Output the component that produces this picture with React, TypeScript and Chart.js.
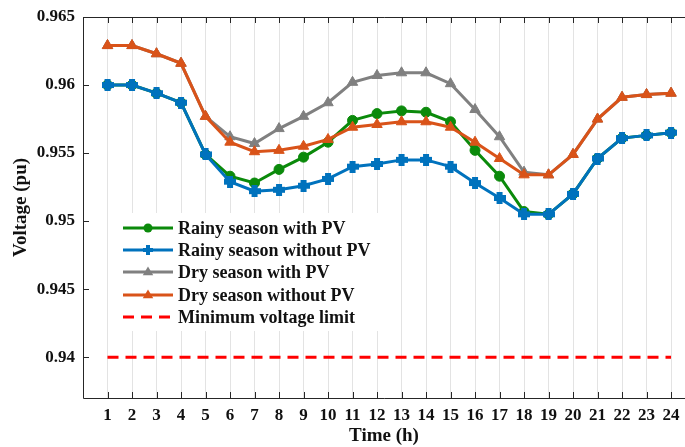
import React, { useEffect, useRef } from "react";
import { Chart, registerables } from "chart.js";

Chart.register(...registerables);

const hours = [1, 2, 3, 4, 5, 6, 7, 8, 9, 10, 11, 12, 13, 14, 15, 16, 17, 18, 19, 20, 21, 22, 23, 24];
const rainyWithPV = [0.96, 0.96, 0.9594, 0.9587, 0.9549, 0.9533, 0.9528, 0.9538, 0.9547, 0.9558, 0.9574, 0.9579, 0.9581, 0.958, 0.9573, 0.9552, 0.9533, 0.9507, 0.9505, 0.952, 0.9546, 0.9561, 0.9563, 0.9565];
const rainyWithoutPV = [0.96, 0.96, 0.9594, 0.9587, 0.9549, 0.9529, 0.9522, 0.9523, 0.9526, 0.9531, 0.954, 0.9542, 0.9545, 0.9545, 0.954, 0.9528, 0.9517, 0.9505, 0.9505, 0.952, 0.9546, 0.9561, 0.9563, 0.9565];
const dryWithPV = [0.9629, 0.9629, 0.9623, 0.9616, 0.9577, 0.9562, 0.9557, 0.9568, 0.9577, 0.9587, 0.9602, 0.9607, 0.9609, 0.9609, 0.9601, 0.9582, 0.9562, 0.9536, 0.9534, 0.9549, 0.9575, 0.9591, 0.9593, 0.9594];
const dryWithoutPV = [0.9629, 0.9629, 0.9623, 0.9616, 0.9577, 0.9558, 0.9551, 0.9552, 0.9555, 0.956, 0.9569, 0.9571, 0.9573, 0.9573, 0.9569, 0.9558, 0.9546, 0.9534, 0.9534, 0.9549, 0.9575, 0.9591, 0.9593, 0.9594];
const minVoltageLimit = [0.94, 0.94, 0.94, 0.94, 0.94, 0.94, 0.94, 0.94, 0.94, 0.94, 0.94, 0.94, 0.94, 0.94, 0.94, 0.94, 0.94, 0.94, 0.94, 0.94, 0.94, 0.94, 0.94, 0.94];
const yTicks = [0.94, 0.945, 0.95, 0.955, 0.96, 0.965];
const yTickLabels = ["0.94", "0.945", "0.95", "0.955", "0.96", "0.965"];
const seriesNames = [
  "Rainy season with PV",
  "Rainy season without PV",
  "Dry season with PV",
  "Dry season without PV",
  "Minimum voltage limit",
];

const GREEN = "#0b8a0b";
const BLUE = "#0072bd";
const GRAY = "#808080";
const ORANGE = "#d95319";
const RED = "#ff0000";
const AXIS = "#262626";
const FONT = "'Liberation Serif', 'Times New Roman', serif";

function makePlus(color: string, size: number) {
  const c = document.createElement("canvas");
  c.width = size;
  c.height = size;
  const g = c.getContext("2d")!;
  g.fillStyle = color;
  const t = Math.round(size / 4);
  g.fillRect(t, 0, size - 2 * t, size);
  g.fillRect(0, t, size, size - 2 * t);
  return c;
}

function toXY(vals: number[]) {
  return vals.map((v, i) => ({ x: hours[i], y: v }));
}

export default function App() {
  const ref = useRef<HTMLCanvasElement | null>(null);

  useEffect(() => {
    document.body.style.margin = "0";
    const canvas = ref.current;
    if (!canvas) return;
    const bluePlus = makePlus(BLUE, 12);
    const bluePlusSmall = makePlus(BLUE, 10);

    const legendPlugin = {
      id: "customLegend",
      afterDatasetsDraw(chart: any) {
        const ctx = chart.ctx;
        ctx.save();
        ctx.fillStyle = "#ffffff";
        ctx.fillRect(113, 213, 277, 118);
        const rows = [228, 250, 272, 295, 317];
        const colors = [GREEN, BLUE, GRAY, ORANGE, RED];
        rows.forEach((y, i) => {
          ctx.strokeStyle = colors[i];
          ctx.lineWidth = 3;
          if (i === 4) {
            ctx.setLineDash([11, 7]);
            ctx.beginPath();
            ctx.moveTo(123, y);
            ctx.lineTo(173, y);
            ctx.stroke();
            ctx.setLineDash([]);
          } else {
            ctx.beginPath();
            ctx.moveTo(123, y);
            ctx.lineTo(173, y);
            ctx.stroke();
          }
          const cx = 148;
          ctx.fillStyle = colors[i];
          if (i === 0) {
            ctx.beginPath();
            ctx.arc(cx, y, 4.5, 0, Math.PI * 2);
            ctx.fill();
          } else if (i === 1) {
            ctx.drawImage(bluePlusSmall, cx - 5, y - 5, 10, 10);
          } else if (i === 2 || i === 3) {
            const r = 5.5;
            ctx.beginPath();
            ctx.moveTo(cx, y - r);
            ctx.lineTo(cx + r * 0.95, y + r * 0.6);
            ctx.lineTo(cx - r * 0.95, y + r * 0.6);
            ctx.closePath();
            ctx.fill();
          }
          ctx.fillStyle = "#111111";
          ctx.font = `bold 18px ${FONT}`;
          ctx.textAlign = "left";
          ctx.textBaseline = "middle";
          ctx.fillText(seriesNames[i], 178, y + 1);
        });
        ctx.restore();
      },
    };

    const framePlugin = {
      id: "frame",
      afterDraw(chart: any) {
        const ctx = chart.ctx;
        const { left, right, top, bottom } = chart.chartArea;
        const xs = chart.scales.x;
        const ys = chart.scales.y;
        ctx.save();
        ctx.strokeStyle = AXIS;
        ctx.lineWidth = 1;
        ctx.beginPath();
        ctx.moveTo(left + 0.5, top + 0.5);
        ctx.lineTo(right, top + 0.5);
        ctx.moveTo(left + 0.5, top);
        ctx.lineTo(left + 0.5, bottom + 0.5);
        ctx.lineTo(right, bottom + 0.5);
        const tl = 6;
        hours.forEach((h) => {
          const px = Math.round(xs.getPixelForValue(h)) + 0.5;
          ctx.moveTo(px, bottom);
          ctx.lineTo(px, bottom - tl);
          ctx.moveTo(px, top);
          ctx.lineTo(px, top + tl);
        });
        yTicks.forEach((v) => {
          const py = Math.round(ys.getPixelForValue(v)) + 0.5;
          ctx.moveTo(left, py);
          ctx.lineTo(left + tl, py);
        });
        ctx.stroke();
        ctx.restore();
      },
    };

    const chart = new Chart(canvas, {
      type: "line",
      data: {
        datasets: [
          {
            label: seriesNames[0],
            data: toXY(rainyWithPV),
            borderColor: GREEN,
            backgroundColor: GREEN,
            borderWidth: 3,
            pointStyle: "circle",
            pointRadius: 5,
            pointBorderWidth: 1,
            order: 4,
          },
          {
            label: seriesNames[1],
            data: toXY(rainyWithoutPV),
            borderColor: BLUE,
            backgroundColor: BLUE,
            borderWidth: 3,
            pointStyle: bluePlus as any,
            pointRadius: 6,
            order: 3,
          },
          {
            label: seriesNames[2],
            data: toXY(dryWithPV),
            borderColor: GRAY,
            backgroundColor: GRAY,
            borderWidth: 3,
            pointStyle: "triangle",
            pointRadius: 6,
            pointBorderWidth: 1,
            order: 2,
          },
          {
            label: seriesNames[3],
            data: toXY(dryWithoutPV),
            borderColor: ORANGE,
            backgroundColor: ORANGE,
            borderWidth: 3,
            pointStyle: "triangle",
            pointRadius: 6,
            pointBorderWidth: 1,
            order: 1,
          },
          {
            label: seriesNames[4],
            data: toXY(minVoltageLimit),
            borderColor: RED,
            backgroundColor: RED,
            borderWidth: 3,
            borderDash: [11, 7],
            pointRadius: 0,
            order: 0,
          },
        ],
      },
      options: {
        animation: false,
        responsive: false,
        maintainAspectRatio: false,
        layout: { autoPadding: false, padding: { top: 17, left: 0, right: 0, bottom: 0 } },
        plugins: { legend: { display: false }, tooltip: { enabled: false } },
        elements: { line: { tension: 0 } },
        scales: {
          x: {
            type: "linear",
            min: 0,
            max: 24.57,
            afterBuildTicks: (s: any) => {
              s.ticks = hours.map((h) => ({ value: h }));
            },
            afterFit: (s: any) => {
              s.height = 49;
              s.paddingLeft = 0;
              s.paddingRight = 0;
            },
            grid: { display: true, color: "#e3e3e3", lineWidth: 1, drawTicks: false },
            border: { display: false },
            ticks: {
              color: "#111111",
              padding: 7,
              maxRotation: 0,
              autoSkip: false,
              font: { family: FONT, size: 17, weight: "bold" },
              callback: (v: any) => String(v),
            },
            title: {
              display: true,
              text: "Time (h)",
              color: "#111111",
              padding: { top: 0, bottom: 0 },
              font: { family: FONT, size: 19, weight: "bold" },
            },
          },
          y: {
            type: "linear",
            min: 0.937,
            max: 0.965,
            afterBuildTicks: (s: any) => {
              s.ticks = yTicks.map((v) => ({ value: v }));
            },
            afterFit: (s: any) => {
              s.width = 83;
              s.paddingTop = 0;
              s.paddingBottom = 0;
            },
            grid: { display: false, drawTicks: false },
            border: { display: false },
            ticks: {
              color: "#111111",
              padding: 8,
              font: { family: FONT, size: 17, weight: "bold" },
              callback: (v: any) => {
                const i = yTicks.findIndex((t) => Math.abs(t - v) < 1e-9);
                return i >= 0 ? yTickLabels[i] : "";
              },
            },
            title: {
              display: true,
              text: "Voltage (pu)",
              color: "#111111",
              padding: { top: 10, bottom: 0 },
              font: { family: FONT, size: 19, weight: "bold" },
            },
          },
        },
      },
      plugins: [legendPlugin, framePlugin],
    } as any);

    return () => chart.destroy();
  }, []);

  return (
    <div style={{ width: 685, height: 447, position: "relative", background: "#fff" }}>
      <canvas ref={ref} width={685} height={447} style={{ display: "block" }} />
    </div>
  );
}
